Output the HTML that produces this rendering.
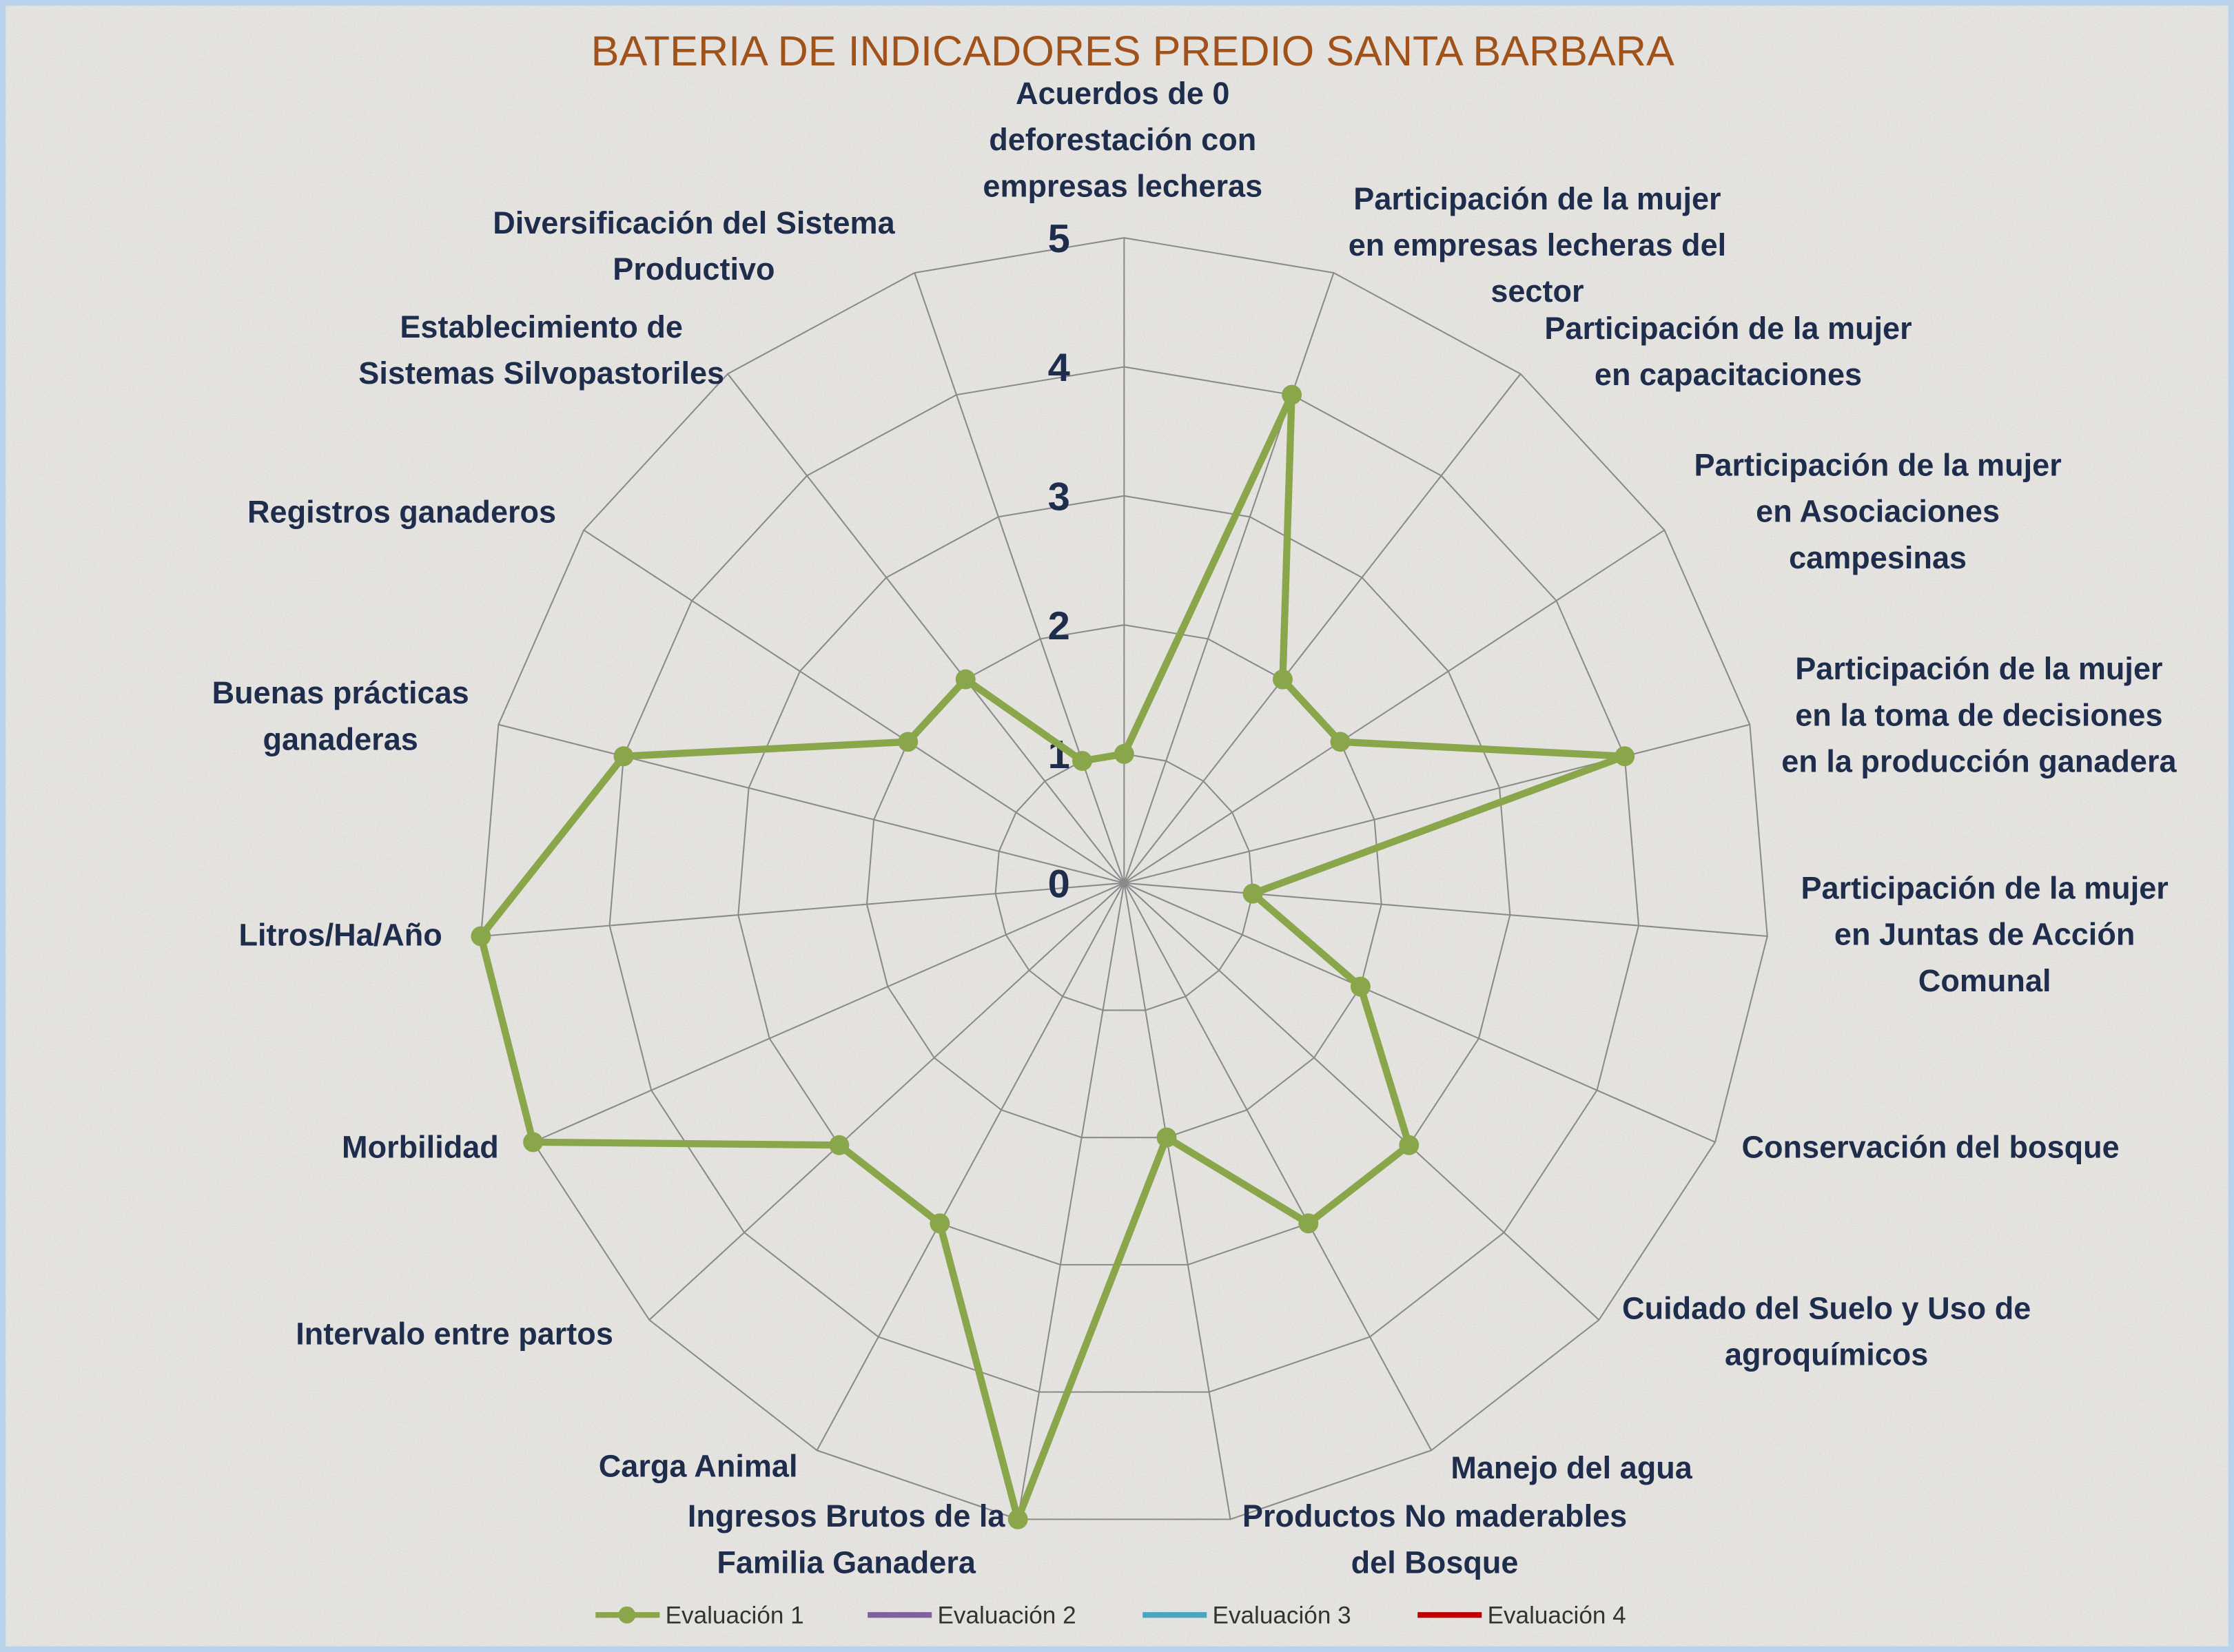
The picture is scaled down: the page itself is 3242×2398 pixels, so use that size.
<!DOCTYPE html>
<html><head><meta charset="utf-8">
<style>
html,body{margin:0;padding:0;}
body{width:3242px;height:2398px;overflow:hidden;background:#e9e7e3;}
svg{display:block;}
text{font-family:"Liberation Sans",sans-serif;}
</style></head>
<body>
<svg id="chart" width="3242" height="2398" viewBox="0 0 1568 1160" preserveAspectRatio="none" xmlns="http://www.w3.org/2000/svg">
  <defs>
    <filter id="tex" x="0" y="0" width="100%" height="100%">
      <feTurbulence type="fractalNoise" baseFrequency="0.9" numOctaves="2" seed="3"/>
      <feColorMatrix values="0 0 0 0 0.55  0 0 0 0 0.54  0 0 0 0 0.52  0 0 0 0.35 0"/>
      <feComposite in2="SourceGraphic" operator="in"/>
    </filter>
  </defs>
  <rect x="0" y="0" width="1568" height="1160" fill="#ebe9e5"/>
  <rect x="0" y="0" width="1568" height="1160" fill="#fff" filter="url(#tex)"/>
  <rect x="2" y="2" width="1564" height="1156" fill="none" stroke="#b9d3ec" stroke-width="4"/>
  <text x="795" y="46" text-anchor="middle" font-size="29.6" fill="#a0521a">BATERIA DE INDICADORES PREDIO SANTA BARBARA</text>
  <g id="grid"></g>
  <g id="ticks"></g>
  <g id="labels"></g>
  <g id="series"></g>
  <g id="legend"></g>
</svg>
<script>
const categories = [
 ["Acuerdos de 0","deforestación con","empresas lecheras"],
 ["Participación de la mujer","en empresas lecheras del","sector"],
 ["Participación de la mujer","en capacitaciones"],
 ["Participación de la mujer","en Asociaciones","campesinas"],
 ["Participación de la mujer","en la toma de decisiones","en la producción ganadera"],
 ["Participación de la mujer","en Juntas de Acción","Comunal"],
 ["Conservación del bosque"],
 ["Cuidado del Suelo y Uso de","agroquímicos"],
 ["Manejo del agua"],
 ["Productos No maderables","del Bosque"],
 ["Ingresos Brutos de la","Familia Ganadera"],
 ["Carga Animal"],
 ["Intervalo entre partos"],
 ["Morbilidad"],
 ["Litros/Ha/Año"],
 ["Buenas prácticas","ganaderas"],
 ["Registros ganaderos"],
 ["Establecimiento de","Sistemas Silvopastoriles"],
 ["Diversificación del Sistema","Productivo"]
];
const evaluacion1 = [1,4,2,2,4,1,2,3,3,2,5,3,3,5,5,4,2,2,1];
const tickValues = [0,1,2,3,4,5];
const legendNames = ["Evaluación 1","Evaluación 2","Evaluación 3","Evaluación 4"];

const NS="http://www.w3.org/2000/svg";
const cx=789, cy=620, R=453, maxV=5, N=categories.length;
const labelCenters=[[788,66],[1079,140],[1213,231],[1318,327],[1389,470],[1393,624],[1355,806],[1282,919],[1103,1031],[1007,1065],[594,1065],[490,1030],[319,937],[295,806],[239,657],[239,487],[282,360],[380,230],[487,157]];
function ang(i){return i*2*Math.PI/N;}
function pt(i,v){const r=v/maxV*R;return [cx+r*Math.sin(ang(i)), cy-r*Math.cos(ang(i))];}
function mk(tag,attrs,parent){const e=document.createElementNS(NS,tag);for(const k in attrs)e.setAttribute(k,attrs[k]);parent.appendChild(e);return e;}

const grid=document.getElementById('grid');
for(const t of tickValues){ if(t===0) continue;
  const ps=[];for(let i=0;i<N;i++)ps.push(pt(i,t).join(','));
  const p=mk('polygon',{points:ps.join(' '),fill:'none',stroke:'#8a8a8a','stroke-width':1},grid);
  
  
}
for(let i=0;i<N;i++){const [x,y]=pt(i,maxV);
  const l=mk('line',{x1:cx,y1:cy,x2:x,y2:y,stroke:'#8a8a8a','stroke-width':1},grid);
  
  
}
const ticks=document.getElementById('ticks');
for(const t of tickValues){const y=cy-t/maxV*R;
  const tx=mk('text',{x:751,y:y+10,'text-anchor':'end','font-size':28,'font-weight':'bold',fill:'#1f2d4d'},ticks);
  tx.textContent=t;
  
  
}
const labels=document.getElementById('labels');
categories.forEach((lines,i)=>{const [x,y0]=labelCenters[i];
  const t=mk('text',{x:x,'text-anchor':'middle','font-size':21.8,'font-weight':'bold',fill:'#1f2d4d'},labels);
  
  
  lines.forEach((ln,j)=>{const s=mk('tspan',{x:x,y:y0+7+j*32.5},t);s.textContent=ln;});
});
const series=document.getElementById('series');
const sp=evaluacion1.map((v,i)=>pt(i,v).join(','));
const poly=mk('polygon',{points:sp.join(' '),fill:'none',stroke:'#8aa64a','stroke-width':5,'stroke-linejoin':'round'},series);


evaluacion1.forEach((v,i)=>{const [x,y]=pt(i,v);
  const c=mk('circle',{cx:x,cy:y,r:7,fill:'#8aa64a'},series);
  
  
});
const legend=document.getElementById('legend');
const lcolors=['#8aa64a','#7f5fa0','#4aa5bf','#c00000'];
const lx=[418,609,802,995];
legendNames.forEach((n,i)=>{
  const g=mk('g',{},legend);
  
  
  mk('line',{x1:lx[i],y1:1134,x2:lx[i]+45,y2:1134,stroke:lcolors[i],'stroke-width':4},g);
  if(i===0) mk('circle',{cx:lx[i]+22,cy:1134,r:6,fill:lcolors[i]},g);
  const t=mk('text',{x:lx[i]+49,y:1140,'font-size':17,fill:'#333'},g);t.textContent=n;
});
</script>
</body></html>
